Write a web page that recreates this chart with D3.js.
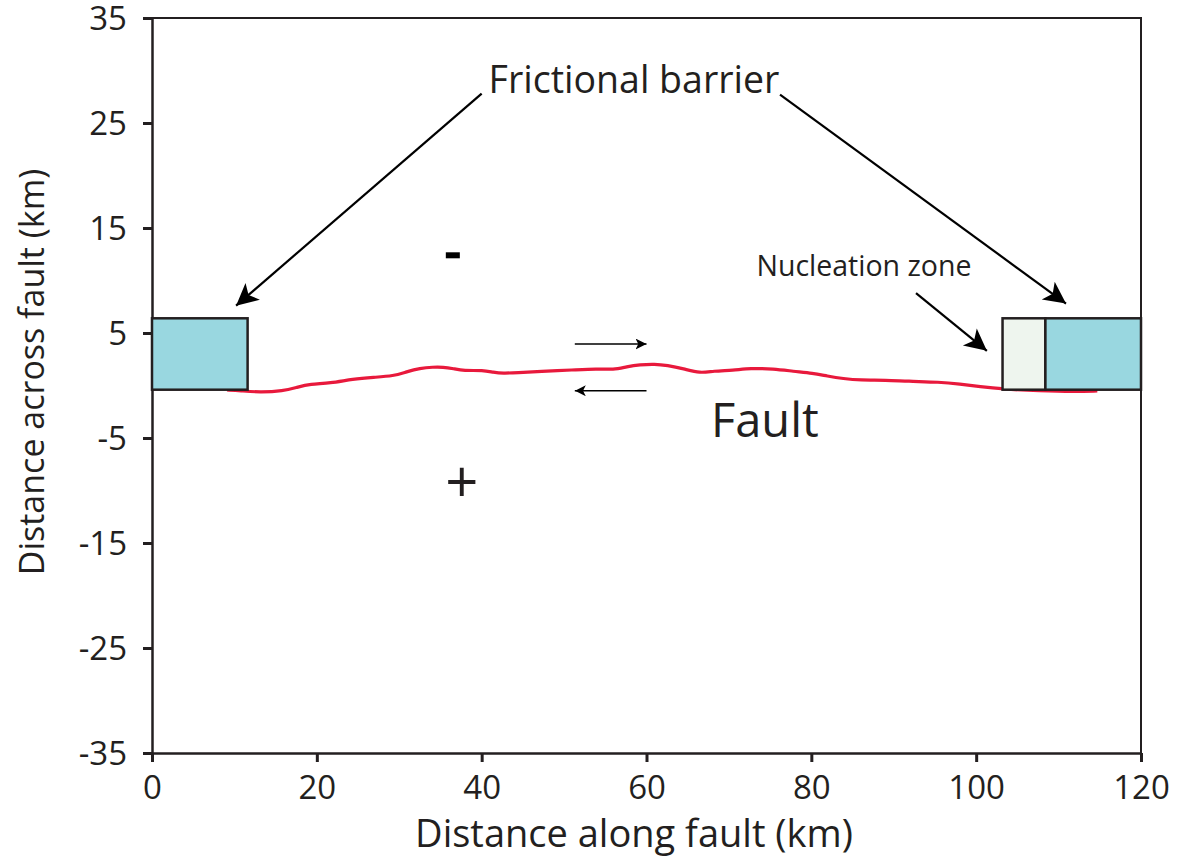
<!DOCTYPE html>
<html>
<head>
<meta charset="utf-8">
<script src="https://cdn.jsdelivr.net/npm/d3@7"></script>
<style>
  body { margin: 0; background: #fff; }
  svg text { font-family: "Open Sans", sans-serif; fill: #231f20; }
</style>
</head>
<body>
<svg id="chart" width="1185" height="859"></svg>
<script>
// fault trace (km along, km across)
var faultX = [9.1, 10.7, 13.1, 15.9, 17.6, 19.2, 21.6, 24.4, 26.9, 29.3, 30.9, 32.5, 34.1, 35.3, 36.6, 37.8, 40.2, 41.4, 42.6, 44.3, 47.1, 51.1, 54.0, 56.0, 57.6, 59.2, 61.0, 62.5, 64.5, 66.5, 68.1, 70.5, 72.6, 75.4, 77.8, 80.2, 81.9, 83.9, 85.9, 89.1, 91.6, 95.6, 98.0, 100.5, 103.1, 107.7, 112.1, 114.7];
var faultY = [-0.43, -0.50, -0.65, -0.52, -0.17, 0.14, 0.21, 0.62, 0.78, 0.90, 1.31, 1.64, 1.76, 1.76, 1.60, 1.41, 1.45, 1.26, 1.16, 1.22, 1.35, 1.48, 1.60, 1.50, 1.79, 1.98, 2.05, 1.92, 1.60, 1.16, 1.38, 1.45, 1.64, 1.60, 1.35, 1.16, 0.90, 0.65, 0.50, 0.52, 0.40, 0.33, 0.14, -0.11, -0.33, -0.52, -0.59, -0.52];

// zones: name, x0, x1, y0, y1
var zoneNames = ["barrierLeft", "nucleation", "barrierRight"];
var zoneX0 = [0, 103.2, 108.4];
var zoneX1 = [11.6, 108.4, 120];
var zoneY0 = [-0.4, -0.4, -0.4];
var zoneY1 = [6.4, 6.4, 6.4];
var zoneFill = ["#99d7e0", "#eef5ee", "#99d7e0"];

var xTicks = [0, 20, 40, 60, 80, 100, 120];
var yTicks = [-35, -25, -15, -5, 5, 15, 25, 35];

var svg = d3.select("#chart");
var x = d3.scaleLinear().domain([0, 120]).range([152, 1141]);
var y = d3.scaleLinear().domain([-35, 35]).range([753, 18]);

// frame top/right
svg.append("path")
  .attr("d", "M" + x(0) + "," + y(35) + "H" + x(120) + "V" + y(-35))
  .attr("fill", "none").attr("stroke", "#231f20").attr("stroke-width", 2);

var plain = function(d) { return String(d); };
var gx = svg.append("g").attr("transform", "translate(0," + y(-35) + ")")
  .call(d3.axisBottom(x).tickValues(xTicks).tickSize(9).tickSizeOuter(0).tickPadding(14).tickFormat(plain));
var gy = svg.append("g").attr("transform", "translate(" + x(0) + ",0)")
  .call(d3.axisLeft(y).tickValues(yTicks).tickSize(9).tickSizeOuter(0).tickPadding(16).tickFormat(plain));
[gx, gy].forEach(function(g) {
  g.select(".domain").attr("stroke", "#231f20").attr("stroke-width", 2.5);
  g.selectAll(".tick line").attr("stroke", "#231f20").attr("stroke-width", 3);
  g.selectAll(".tick text").attr("font-size", 33).attr("font-family", "Open Sans").attr("fill", "#231f20");
});
gy.selectAll(".tick text").attr("dy", "0.36em");

svg.append("text").attr("x", 634).attr("y", 847)
  .attr("text-anchor", "middle").attr("font-size", 38).text("Distance along fault (km)");
svg.append("text").attr("transform", "translate(44," + 372 + ") rotate(-90)")
  .attr("text-anchor", "middle").attr("font-size", 34).text("Distance across fault (km)");

// fault line
var faultPts = faultX.map(function(d, i) { return [d, faultY[i]]; });
svg.append("path")
  .attr("d", d3.line().x(function(d) { return x(d[0]); }).y(function(d) { return y(d[1]); }).curve(d3.curveBasis)(faultPts))
  .attr("fill", "none").attr("stroke", "#e8193c").attr("stroke-width", 3.2);

// zones
svg.selectAll("rect.zone").data(zoneNames).enter().append("rect")
  .attr("class", "zone")
  .attr("x", function(d, i) { return x(zoneX0[i]); })
  .attr("y", function(d, i) { return y(zoneY1[i]); })
  .attr("width", function(d, i) { return x(zoneX1[i]) - x(zoneX0[i]); })
  .attr("height", function(d, i) { return y(zoneY0[i]) - y(zoneY1[i]); })
  .attr("fill", function(d, i) { return zoneFill[i]; })
  .attr("stroke", "#231f20").attr("stroke-width", 2.5);

// arrow markers
var defs = svg.append("defs");
defs.append("marker").attr("id", "bigHead").attr("viewBox", "0 0 10 10")
  .attr("refX", 10).attr("refY", 5).attr("markerUnits", "userSpaceOnUse")
  .attr("markerWidth", 26).attr("markerHeight", 22).attr("orient", "auto")
  .append("path").attr("d", "M0,0 L10,5 L0,10 L2.5,5 Z").attr("fill", "#000");
defs.append("marker").attr("id", "smallHead").attr("viewBox", "0 0 10 10")
  .attr("refX", 10).attr("refY", 5).attr("markerUnits", "userSpaceOnUse")
  .attr("markerWidth", 11).attr("markerHeight", 11).attr("orient", "auto")
  .append("path").attr("d", "M0,0 L10,5 L0,10 L2.5,5 Z").attr("fill", "#000");

// callouts: from -> to (data units)
var calloutFrom = [[40.0, 27.8], [76.2, 27.7], [92.7, 8.8]];
var calloutTo = [[10.2, 7.6], [110.9, 7.8], [101.3, 3.3]];
calloutFrom.forEach(function(f, i) {
  svg.append("line")
    .attr("x1", x(f[0])).attr("y1", y(f[1]))
    .attr("x2", x(calloutTo[i][0])).attr("y2", y(calloutTo[i][1]))
    .attr("stroke", "#000").attr("stroke-width", 2.2)
    .attr("marker-end", "url(#bigHead)");
});

// slip arrows
var slipFrom = [[51.3, 3.95], [60.0, -0.5]];
var slipTo = [[60.0, 3.95], [51.3, -0.5]];
slipFrom.forEach(function(f, i) {
  svg.append("line")
    .attr("x1", x(f[0])).attr("y1", y(f[1]))
    .attr("x2", x(slipTo[i][0])).attr("y2", y(slipTo[i][1]))
    .attr("stroke", "#000").attr("stroke-width", 1.5)
    .attr("marker-end", "url(#smallHead)");
});

// labels
svg.append("text").attr("x", 634).attr("y", 93).attr("text-anchor", "middle")
  .attr("font-size", 37.5).text("Frictional barrier");
svg.append("text").attr("x", 864).attr("y", 276).attr("text-anchor", "middle")
  .attr("font-size", 28.5).text("Nucleation zone");
svg.append("text").attr("x", 711).attr("y", 437)
  .attr("font-size", 47).text("Fault");
svg.append("rect").attr("x", x(36.5) - 7).attr("y", y(12.4) - 3).attr("width", 14).attr("height", 6).attr("fill", "#000");
svg.append("text").attr("x", x(37.6)).attr("y", y(-9.3)).attr("dy", "0.35em").attr("text-anchor", "middle")
  .attr("font-size", 58).text("+");
</script>
</body>
</html>
